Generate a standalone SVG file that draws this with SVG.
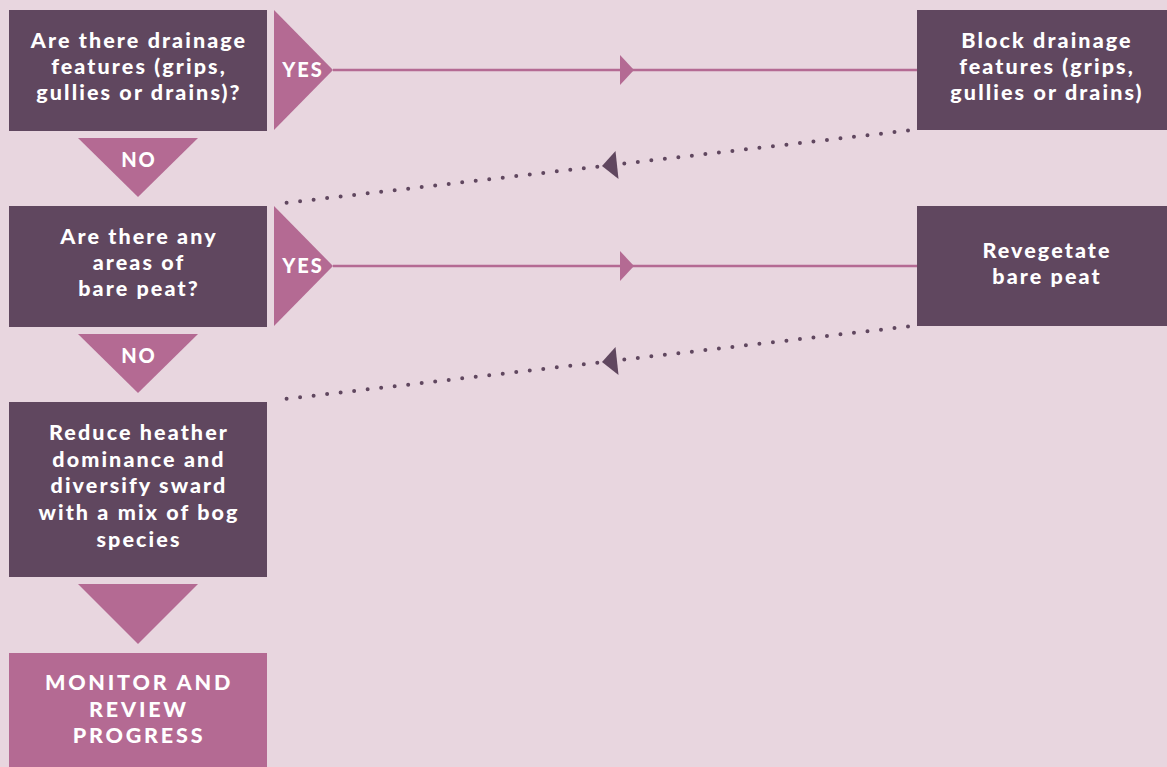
<svg xmlns="http://www.w3.org/2000/svg" width="1167" height="767" viewBox="0 0 1167 767">
<defs>
<style>
.bg{fill:#e8d6df}
.dark{fill:#60475f}
.pink{fill:#b46a93}
.t{font-family:Lato,"Open Sans","Liberation Sans",sans-serif;font-weight:900;fill:#ffffff;text-anchor:middle}
.tb{font-size:21.5px;letter-spacing:2.1px}
.tc{font-size:21.5px;letter-spacing:2.8px}
.ts{font-size:20px;letter-spacing:2px}
.solid{stroke:#b46a93;stroke-width:2.5;fill:none}
.dot{stroke:#60475f;stroke-width:4;stroke-linecap:round;stroke-dasharray:0 13.6;fill:none}
</style>
</defs>
<rect class="bg" x="0" y="0" width="1167" height="767"/>
<g id="connectors">
<line class="solid" x1="333" y1="70" x2="917" y2="70"/>
<polygon class="pink" points="620,55 634,70 620,85"/>
<line class="solid" x1="333" y1="266" x2="917" y2="266"/>
<polygon class="pink" points="620,251 634,266 620,281"/>
<line class="dot" x1="908" y1="130.5" x2="283" y2="203.2"/>
<polygon class="dark" points="602,166 615.5,151 618.5,179"/>
<line class="dot" x1="908" y1="326.5" x2="283" y2="399.2"/>
<polygon class="dark" points="602,362 615.5,347 618.5,375"/>
</g>
<g id="q1">
<rect class="dark" x="9" y="10" width="258" height="121"/>
<text class="t tb" x="139" y="48">Are there drainage</text>
<text class="t tb" x="139" y="74">features (grips,</text>
<text class="t tb" x="139" y="100">gullies or drains)?</text>
</g>
<g id="yes1">
<polygon class="pink" points="274,10 333,70 274,130"/>
<text class="t ts" x="303" y="77">YES</text>
</g>
<g id="no1">
<polygon class="pink" points="78,138 198,138 138,197"/>
<text class="t ts" x="139" y="167">NO</text>
</g>
<g id="block">
<rect class="dark" x="917" y="10" width="250" height="120"/>
<text class="t tb" x="1047" y="48">Block drainage</text>
<text class="t tb" x="1047" y="74">features (grips,</text>
<text class="t tb" x="1047" y="100">gullies or drains)</text>
</g>
<g id="q2">
<rect class="dark" x="9" y="206" width="258" height="121"/>
<text class="t tb" x="139" y="244">Are there any</text>
<text class="t tb" x="139" y="270">areas of</text>
<text class="t tb" x="139" y="296">bare peat?</text>
</g>
<g id="yes2">
<polygon class="pink" points="274,206 333,266 274,326"/>
<text class="t ts" x="303" y="273">YES</text>
</g>
<g id="no2">
<polygon class="pink" points="78,334 198,334 138,393"/>
<text class="t ts" x="139" y="363">NO</text>
</g>
<g id="reveg">
<rect class="dark" x="917" y="206" width="250" height="120"/>
<text class="t tb" x="1047" y="258">Revegetate</text>
<text class="t tb" x="1047" y="284">bare peat</text>
</g>
<g id="reduce">
<rect class="dark" x="9" y="402" width="258" height="175"/>
<text class="t tb" x="139" y="440">Reduce heather</text>
<text class="t tb" x="139" y="467">dominance and</text>
<text class="t tb" x="139" y="493">diversify sward</text>
<text class="t tb" x="139" y="520">with a mix of bog</text>
<text class="t tb" x="139" y="547">species</text>
</g>
<g id="arrow3">
<polygon class="pink" points="78,584 198,584 138,644"/>
</g>
<g id="monitor">
<rect class="pink" x="9" y="653" width="258" height="114"/>
<text class="t tc" x="139" y="690">MONITOR AND</text>
<text class="t tc" x="139" y="717">REVIEW</text>
<text class="t tc" x="139" y="743">PROGRESS</text>
</g>
</svg>
